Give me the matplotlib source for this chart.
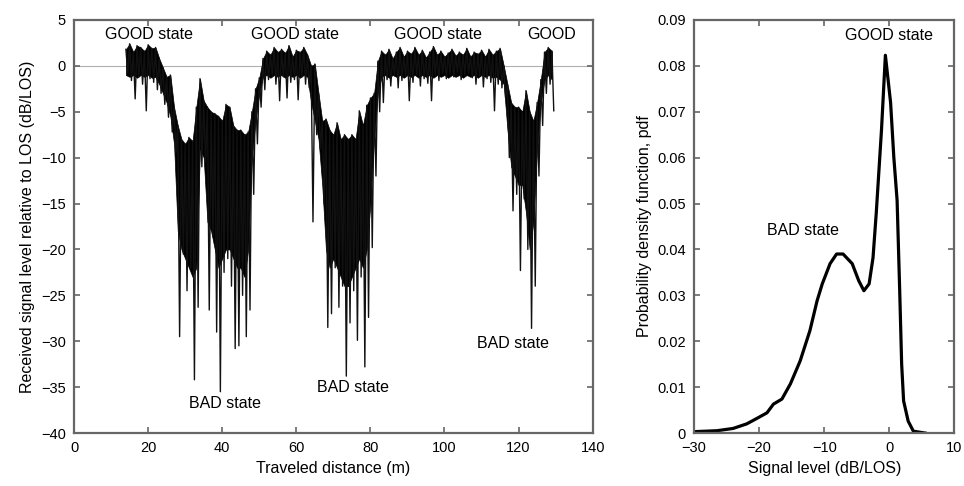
import matplotlib.pyplot as plt
import numpy as np

plt.rcParams['font.family'] = ['Liberation Sans', 'DejaVu Sans']

# received signal level (dB/LOS), sampled every 0.5 m starting at 14 m
# values read off the trace: alternating peak / dip pairs per metre
signal_db = [
    1.8, -0.8, 2.4, -1.6, 1.5, -3.6, 2.2, -1.2, 2.0, -2.0,      # 14-18
    1.6, -4.9, 2.3, -1.4, 1.9, -1.8, 2.0, -2.6, 0.8, -3.0,      # 19-23
    -0.2, -4.2, -1.2, -5.6, -1.0, -7.2, -4.5, -9.5, -6.5, -29.5,  # 24-28
    -8.0, -20.5, -8.5, -24.5, -7.8, -22.0, -8.2, -34.2, -4.5, -26.3,  # 29-33
    -1.4, -11.0, -3.8, -10.5, -4.5, -26.6, -5.0, -18.5, -5.2, -29.0,  # 34-38
    -5.5, -35.5, -6.0, -22.5, -4.2, -21.0, -4.5, -24.0, -6.5, -30.8,  # 39-43
    -7.0, -30.5, -7.0, -25.0, -7.5, -29.5, -7.2, -26.6, -5.0, -14.0,  # 44-48
    -2.5, -8.5, -1.3, -4.5, 0.8, -2.6, 1.6, -1.5, 1.2, -1.0,    # 49-53
    2.0, -2.0, 1.5, -3.8, 1.8, -1.2, 1.4, -3.5, 2.2, -1.8,      # 54-58
    1.0, -1.5, 1.7, -3.7, 1.5, -1.2, 2.0, -2.0, 1.2, -2.4,      # 59-63
    0.0, -17.0, 0.2, -7.5, -3.0, -9.0, -6.0, -15.0, -5.8, -28.5,  # 64-68
    -7.0, -27.0, -7.5, -22.0, -6.2, -26.3, -8.0, -24.0, -7.5, -33.8,  # 69-73
    -8.0, -28.0, -7.5, -24.5, -8.0, -29.9, -4.9, -23.0, -6.5, -32.8,  # 74-78
    -4.3, -27.4, -3.5, -19.8, -3.0, -12.0, 0.5, -5.0, 1.6, -4.0,  # 79-83
    1.2, -1.5, 1.8, -2.2, 0.8, -1.0, 1.5, -2.4, 2.0, -1.6,      # 84-88
    1.0, -1.2, 1.6, -3.8, 1.3, -1.8, 2.0, -1.0, 1.2, -2.2,      # 89-93
    1.7, -1.4, 0.9, -1.9, 1.5, -3.8, 2.1, -1.0, 1.2, -1.6,      # 94-98
    1.6, -0.8, 1.0, -1.4, 1.4, -0.9, 1.8, -1.2, 1.1, -0.7,      # 99-103
    1.5, -1.5, 1.2, -1.0, 1.9, -0.8, 1.0, -1.3, 1.5, -2.0,      # 104-108
    1.3, -1.1, 1.7, -2.3, 1.0, -1.4, 1.8, -1.8, 1.2, -4.9,      # 109-113
    1.6, -2.0, 1.9, -2.4, 0.0, -3.5, -2.0, -10.0, -4.0, -15.8,  # 114-118
    -4.5, -14.0, -4.5, -22.3, -5.0, -14.5, -2.7, -20.0, -5.0, -28.6,  # 119-123
    -6.0, -24.0, -4.0, -12.0, -1.5, -6.5, 1.5, -3.0, 2.0, -2.0,  # 124-128
    1.6, -4.9,                                                  # 129
]
# lower edge of the solid black band, one value per metre from 14 m
band_low_db = [
    -1.0, -1.2, -1.0, -1.3, -1.0, -1.2, -1.0, -1.3, -1.2, -2.0,  # 14-23
    -3.0, -4.0, -5.5, -8.5, -18.0, -20.0, -21.0, -22.0, -23.0, -22.0,  # 24-33
    -9.0, -10.0, -17.0, -18.0, -20.0, -22.0, -21.0, -20.0, -20.0, -21.0,  # 34-43
    -22.0, -22.0, -23.0, -20.0, -10.0, -6.0, -3.0, -1.2, -1.0, -1.3,  # 44-53
    -1.0, -1.2, -1.0, -1.3, -1.0, -1.2, -1.0, -1.3, -1.0, -1.2,  # 54-63
    -4.0, -6.0, -8.0, -13.0, -20.0, -22.0, -21.0, -22.0, -23.0, -24.0,  # 64-73
    -24.0, -23.0, -22.0, -21.0, -22.0, -20.0, -15.0, -8.0, -3.0, -1.2,  # 74-83
    -1.0, -1.3, -1.0, -1.2, -1.0, -1.3, -1.0, -1.2, -1.0, -1.3,  # 84-93
    -1.0, -1.2, -1.0, -1.3, -1.0, -1.2, -1.0, -1.3, -1.0, -1.2,  # 94-103
    -1.0, -1.3, -1.0, -1.2, -1.0, -1.3, -1.0, -1.2, -1.0, -1.3,  # 104-113
    -1.2, -1.5, -2.0, -7.0, -11.0, -12.0, -13.0, -13.0, -16.0, -20.0,  # 114-123
    -17.0, -9.0, -4.0, -1.5, -1.0, -1.5,                        # 124-129
]
start_m = 14.0
step_m = 0.5

# pdf of signal level
pdf_level = [-30, -26.5, -24, -21.9, -20.2, -18.8, -17.8, -16.5, -15.2,
             -13.7, -12.2, -11.1, -10.3, -9.1, -8.1, -7.1, -5.7, -4.7,
             -3.9, -3.1, -2.5, -2.0, -1.2, -0.6, 0.2, 0.7, 1.2, 1.6, 1.9,
             2.2, 2.9, 3.7, 5.5]
pdf_value = [0.0003, 0.0005, 0.001, 0.002, 0.0033, 0.0044, 0.0063, 0.0074,
             0.0107, 0.0157, 0.0223, 0.0288, 0.0325, 0.0369, 0.039, 0.039,
             0.0369, 0.0332, 0.031, 0.0325, 0.0382, 0.048, 0.066, 0.0823,
             0.072, 0.06, 0.0507, 0.031, 0.015, 0.007, 0.0026, 0.0004, 0.0]

spine_color = '#666666'


def style_axes(ax):
    for s in ax.spines.values():
        s.set_color(spine_color)
        s.set_linewidth(1.6)
    ax.tick_params(direction='in', top=True, right=True, length=4,
                   width=1.2, color=spine_color, labelsize=10.5, pad=6)


fig = plt.figure(figsize=(9.64, 4.86), dpi=100)
ax1 = fig.add_axes([0.0768, 0.109, 0.538, 0.850])
ax2 = fig.add_axes([0.720, 0.109, 0.270, 0.850])

# left: signal trace
dist = start_m + step_m * np.arange(len(signal_db))
peaks = np.array(signal_db[0::2])
ax1.axhline(0, color='#b0b0b0', lw=0.8, zorder=1)
ax1.fill_between(dist[0::2], peaks, band_low_db, color='black', lw=0.5,
                 zorder=2)
ax1.plot(dist, signal_db, color='#111111', lw=1.0, zorder=3)
ax1.set_xlim(0, 140)
ax1.set_ylim(-40, 5)
ax1.set_xticks(range(0, 141, 20))
ax1.set_yticks(range(-40, 6, 5))
ax1.set_xlabel('Traveled distance (m)', fontsize=11.5)
ax1.set_ylabel('Received signal level relative to LOS (dB/LOS)',
               fontsize=11.5, labelpad=4)
style_axes(ax1)

for txt, x, y in [('GOOD state', 20.3, 3.4), ('GOOD state', 59.6, 3.4),
                  ('GOOD state', 98.2, 3.4), ('GOOD', 129, 3.4),
                  ('BAD state', 40.7, -36.8), ('BAD state', 75.3, -35.0),
                  ('BAD state', 118.4, -30.2)]:
    ax1.text(x, y, txt, ha='center', va='center', fontsize=11.5)

# right: pdf
ax2.plot(pdf_level, pdf_value, color='black', lw=2.3)
ax2.set_xlim(-30, 10)
ax2.set_ylim(0, 0.09)
ax2.set_xticks(range(-30, 11, 10))
ax2.set_yticks(np.arange(0, 0.091, 0.01))
ax2.set_yticklabels(['0'] + ['%.2f' % v for v in np.arange(0.01, 0.091, 0.01)])
ax2.set_xlabel('Signal level (dB/LOS)', fontsize=11.5)
ax2.set_ylabel('Probability density function, pdf', fontsize=11.5)
style_axes(ax2)
ax2.text(0, 0.0865, 'GOOD state', ha='center', va='center', fontsize=11.5)
ax2.text(-13.2, 0.0441, 'BAD state', ha='center', va='center', fontsize=11.5)

fig.savefig('out.png', dpi=100)
